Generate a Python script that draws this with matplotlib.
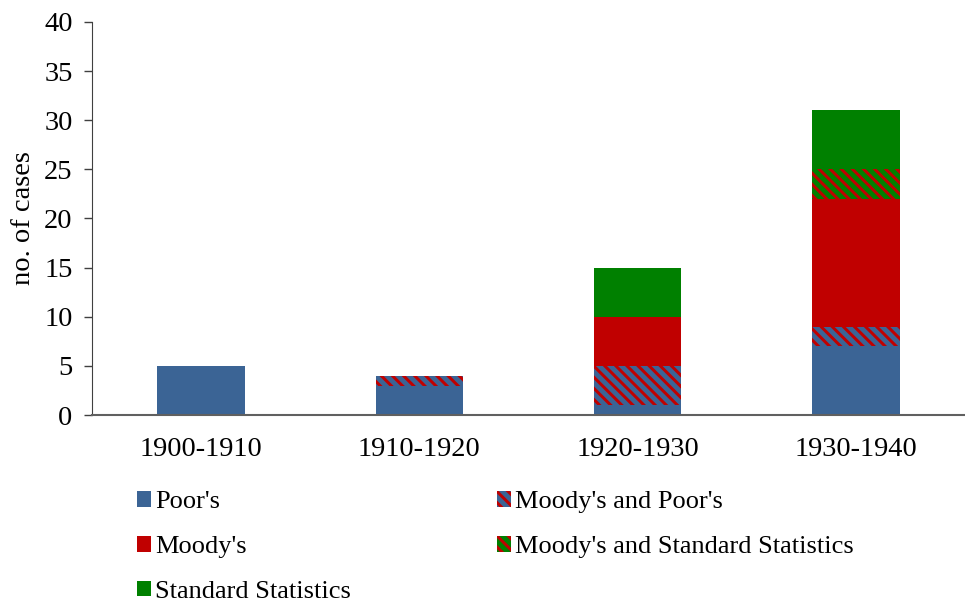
import matplotlib
matplotlib.use("Agg")
import matplotlib.pyplot as plt
import numpy as np

categories = ["1900-1910", "1910-1920", "1920-1930", "1930-1940"]
poors = [5, 3, 1, 7]
moodys_poors = [0, 1, 4, 2]
moodys = [0, 0, 5, 13]
moodys_ss = [0, 0, 0, 3]
standard = [0, 0, 5, 6]

plt.rcParams['font.family'] = ['Liberation Serif', 'DejaVu Serif']
plt.rcParams['hatch.linewidth'] = 3.5

BLUE = "#3b6495"
RED = "#c00000"
GREEN = "#008000"
FS = 20.5
LFS = 19

fig = plt.figure(figsize=(9.65, 6.02), dpi=100)
ax = fig.add_axes([0.0953, 0.3106, 0.9047, 0.6529])

x = np.arange(len(categories))
w = 0.4
bottom = np.zeros(len(categories))

h1 = ax.bar(x, poors, w, bottom=bottom, color=BLUE, linewidth=0, label="Poor's")
bottom += poors
h2 = ax.bar(x, moodys_poors, w, bottom=bottom, facecolor=RED, edgecolor=BLUE,
            hatch='\\\\\\', linewidth=0, label="Moody's and Poor's")
bottom += moodys_poors
h3 = ax.bar(x, moodys, w, bottom=bottom, color=RED, linewidth=0, label="Moody's")
bottom += moodys
h4 = ax.bar(x, moodys_ss, w, bottom=bottom, facecolor=RED, edgecolor=GREEN,
            hatch='\\\\\\', linewidth=0, label="Moody's and Standard Statistics")
bottom += moodys_ss
h5 = ax.bar(x, standard, w, bottom=bottom, color=GREEN, linewidth=0, label="Standard Statistics")

ax.set_xlim(-0.5, 3.5)
ax.set_ylim(0, 40)
ax.set_yticks(range(0, 41, 5))
ax.set_xticks(x)
ax.set_xticklabels(categories)
ax.tick_params(axis='x', length=0, pad=16, labelsize=FS)
ax.tick_params(axis='y', direction='out', length=6, width=1, color='#404040', labelsize=FS, pad=8)
for s in ['top', 'right']:
    ax.spines[s].set_visible(False)
ax.spines['left'].set_color('#404040')
ax.spines['bottom'].set_color('#606060')
ax.spines['bottom'].set_linewidth(1.5)
ax.set_ylabel("no. of cases", fontsize=FS, labelpad=6)

handles = [h1, h3, h5, h2, h4]
labels = ["Poor's", "Moody's", "Standard Statistics", "Moody's and Poor's",
          "Moody's and Standard Statistics"]
fig.legend(handles, labels, ncol=2, loc='upper left', bbox_to_anchor=(0.142, 0.184),
           frameon=False, fontsize=LFS, handlelength=0.53, handleheight=0.53,
           handletextpad=0.15, labelspacing=0.86, columnspacing=5.53, borderaxespad=0,
           borderpad=0)

fig.savefig("out.png", dpi=100)
